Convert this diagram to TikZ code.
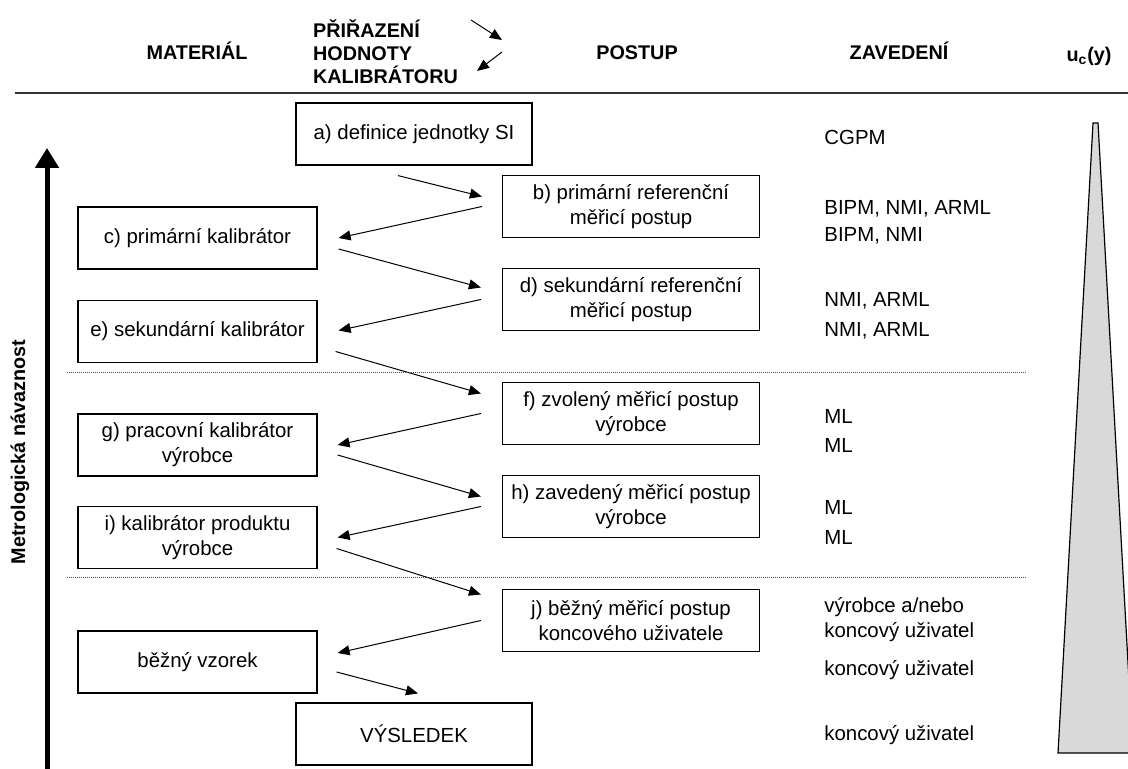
\documentclass[tikz,border=0pt]{standalone}
\usepackage{fontspec}
\setmainfont{Liberation Sans}
\usetikzlibrary{arrows.meta}
\begin{document}
\begin{tikzpicture}
	[x=0.5pt,y=-0.5pt,
	font=\fontsize{10.2}{12.5}\selectfont,
	box/.style={draw,line width=0.6pt,minimum height=31pt,inner sep=0pt,align=center},
	matbox/.style={box,minimum width=119.5pt},
	procbox/.style={box,minimum width=128.5pt},
	endbox/.style={box,minimum width=118pt},
	head/.style={font=\fontsize{9.9}{11.5}\selectfont\bfseries},
	org/.style={anchor=west,inner sep=0pt,align=left},
	arr/.style={line width=0.5pt,-{Triangle[length=6pt,width=5pt]}},
	sep/.style={line width=0.5pt,black!70,dash pattern=on 0.5pt off 0.5pt}]
	\useasboundingbox (0,0) rectangle (1128,769);
	% header
	\node[head,anchor=base] (material) at (197,60) {MATERIÁL};
	\node[head,anchor=west,align=left] (prirazeni) at (306,52) {PŘIŘAZENÍ\\HODNOTY\\KALIBRÁTORU};
	\node[head,anchor=base] (postup) at (637,60) {POSTUP};
	\node[head,anchor=base] (zavedeni) at (899,60) {ZAVEDENÍ};
	\node[head,anchor=base] (uc) at (1089,62) {u\textsubscript{c}(y)};
	\coordinate (p1) at (471,20);
	\coordinate (p2) at (502,40);
	\coordinate (p3) at (502,52);
	\coordinate (p4) at (477,71);
	\draw[arr] (p1) -- (p2);
	\draw[arr] (p3) -- (p4);
	\draw[line width=0.7pt,black!80] (15,93) -- (1128,93);
	% traceability axis
	\coordinate (navlow) at (47,775);
	\coordinate (navtop) at (47,148);
	\draw[line width=2.5pt,-{Triangle[length=10pt,width=11.5pt]}] (navlow) -- (navtop);
	\node[head,rotate=90] (nav) at (20,452) {Metrologická návaznost};
	% boxes
	\node[endbox] (a) at (414,134) {a) definice jednotky SI};
	\node[procbox] (b) at (631,206.5) {b) primární referenční\\měřicí postup};
	\node[matbox] (c) at (197.5,238) {c) primární kalibrátor};
	\node[procbox] (d) at (631,299.5) {d) sekundární referenční\\měřicí postup};
	\node[matbox] (e) at (197.5,331.5) {e) sekundární kalibrátor};
	\node[procbox] (f) at (631,413.5) {f) zvolený měřicí postup\\výrobce};
	\node[matbox] (g) at (197.5,445) {g) pracovní kalibrátor\\výrobce};
	\node[procbox] (h) at (631,506.5) {h) zavedený měřicí postup\\výrobce};
	\node[matbox] (i) at (197.5,537.5) {i) kalibrátor produktu\\výrobce};
	\node[procbox] (j) at (631,620.5) {j) běžný měřicí postup\\koncového uživatele};
	\node[matbox] (vzorek) at (197.5,662) {běžný vzorek};
	\node[endbox] (vysledek) at (414,734) {VÝSLEDEK};
	% arrows
	\draw[arr] ([shift={(-16,10)}]a.south) -- ([shift={(-20,-10)}]b.west);
	\draw[arr] ([shift={(-20,0)}]b.west) -- ([shift={(21,0)}]c.east);
	\draw[arr] ([shift={(21,11)}]c.east) -- ([shift={(-21,-12)}]d.west);
	\draw[arr] ([shift={(-21,0)}]d.west) -- ([shift={(21,-1)}]e.east);
	\draw[arr] ([shift={(18,20)}]e.east) -- ([shift={(-21,-20)}]f.west);
	\draw[arr] ([shift={(-21,0)}]f.west) -- ([shift={(20,0)}]g.east);
	\draw[arr] ([shift={(20,10)}]g.east) -- ([shift={(-21,-10)}]h.west);
	\draw[arr] ([shift={(-21,0)}]h.west) -- ([shift={(20,0)}]i.east);
	\draw[arr] ([shift={(19,11)}]i.east) -- ([shift={(-21,-26)}]j.west);
	\draw[arr] ([shift={(-21,0)}]j.west) -- ([shift={(20,-9)}]vzorek.east);
	\draw[arr] ([shift={(19,10)}]vzorek.east) -- ([shift={(4,-9)}]vysledek.north);
	% levels
	\draw[sep] (67,373) -- (1027,373);
	\draw[sep] (67,577) -- (1027,577);
	% organisations
	\foreach \t/\y [count=\k] in {CGPM/137,{BIPM, NMI, ARML}/209,{BIPM, NMI}/236,
		{NMI, ARML}/301,{NMI, ARML}/331,ML/416,ML/445,ML/507,ML/537,
		{výrobce a/nebo\\koncový uživatel}/620,koncový uživatel/670,koncový uživatel/735}
	{
		\node[org] (z\k) at (824,\y) {\t};
	}
	% uncertainty
	\draw[line width=0.6pt,fill=black!15] (1093,123) -- (1098,123) -- (1133,753) -- (1058,753) -- cycle;
\end{tikzpicture}
\end{document}
